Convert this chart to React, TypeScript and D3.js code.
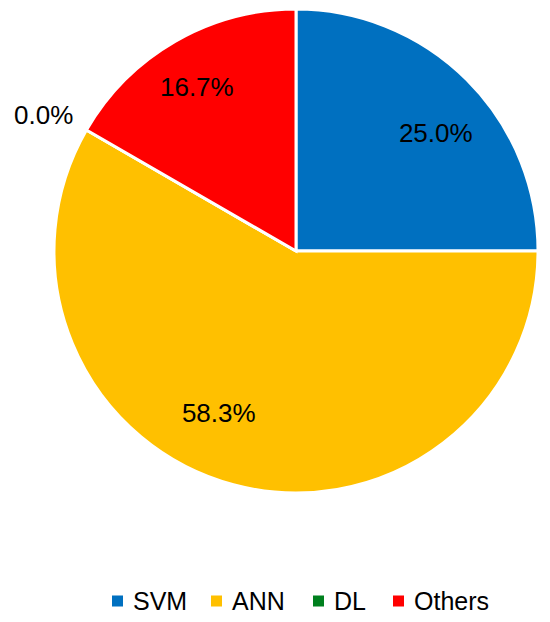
import React from "react";
import * as d3 from "d3";

const categories = ["SVM", "ANN", "DL", "Others"];
const values = [3, 7, 0, 2];
const colors = ["#0070C0", "#FFC000", "#00801E", "#FF0000"];

const W = 550;
const H = 622;
const cx = 296;
const cy = 251;
const R = 242;
// best-fit label nudges (px), per slice
const labelNudge: [number, number][] = [[8, 14], [-29, -18], [-5, 7], [-6, -3]];

export default function App() {
  const total = d3.sum(values);
  const pie = d3.pie<number>().sort(null).value((d) => d);
  const arcs = pie(values);
  const arc = d3.arc<d3.PieArcDatum<number>>().innerRadius(0).outerRadius(R);
  const labelArc = d3.arc<d3.PieArcDatum<number>>().innerRadius(R * 0.77).outerRadius(R * 0.77);
  const outArc = d3.arc<d3.PieArcDatum<number>>().innerRadius(R * 1.18).outerRadius(R * 1.18);
  const pct = (v: number) => ((v / total) * 100).toFixed(1) + "%";

  const legendX = d3.scaleOrdinal<string, number>().domain(categories).range([112, 211, 313, 393]);

  return (
    <svg width={W} height={H} style={{ position: "absolute", left: 0, top: 0, fontFamily: "Liberation Sans, Arial, sans-serif" }}>
      <rect width={W} height={H} fill="#fff" />
      <g transform={`translate(${cx},${cy})`}>
        {arcs.map((a, i) => (
          <path key={i} d={arc(a) || ""} fill={colors[i]} stroke="#fff" strokeWidth={3} strokeLinejoin="miter" />
        ))}
        {arcs.map((a, i) => {
          const [x, y] = a.value === 0 ? outArc.centroid(a) : labelArc.centroid(a);
          return (
            <text key={"l" + i} x={x + labelNudge[i][0]} y={y + labelNudge[i][1]} textAnchor="middle" dominantBaseline="central" fontSize={26} fill="#000">
              {pct(a.value)}
            </text>
          );
        })}
      </g>
      <g>
        {categories.map((c, i) => (
          <g key={c} transform={`translate(${legendX(c)},601)`}>
            <rect x={0} y={-5.5} width={11} height={11} fill={colors[i]} />
            <text x={21} y={0} dominantBaseline="central" fontSize={25} fill="#000">
              {c}
            </text>
          </g>
        ))}
      </g>
    </svg>
  );
}
